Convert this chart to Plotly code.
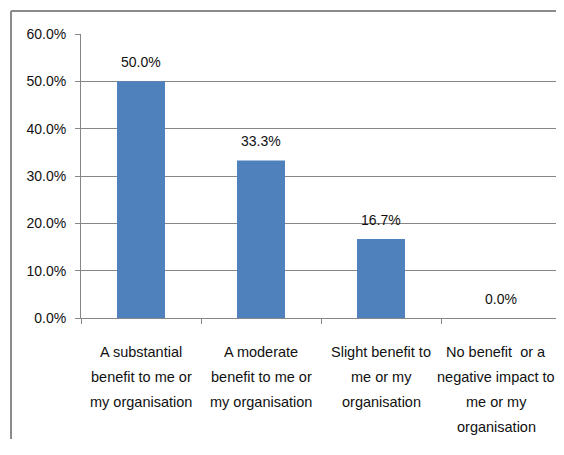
import plotly.graph_objects as go

# ── data ─────────────────────────────────────────
categories = [
    "A substantial benefit to me or my organisation",
    "A moderate benefit to me or my organisation",
    "Slight benefit to me or my organisation",
    "No benefit  or a negative impact to me or my organisation",
]
label_lines = [
    ["A substantial", "benefit to me or", "my organisation"],
    ["A moderate", "benefit to me or", "my organisation"],
    ["Slight benefit to", "me or my", "organisation"],
    ["No benefit  or a", "negative impact to", "me or my", "organisation"],
]
shares = [50.0, 33.3, 16.7, 0.0]

FONT = "Liberation Sans, Arial, sans-serif"
GRID = "#868686"
BAR = "#4F81BD"
TXT = "#111111"

fig = go.Figure()
fig.add_trace(go.Bar(x=categories, y=shares, marker=dict(color=BAR, line=dict(width=0)),
                     width=0.4, showlegend=False, hoverinfo="y"))

# value labels above each bar
for cat, val in zip(categories, shares):
    fig.add_annotation(x=cat, y=val, text=f"{val:.1f}%", showarrow=False,
                       yanchor="middle", yshift=19,
                       font=dict(family=FONT, size=14, color=TXT))

# category labels, one annotation per line (excel-like wide line spacing);
# the last column is nudged left a little so its widest line is not clipped
for k, (cat, lines) in enumerate(zip(categories, label_lines)):
    nudge = -5 if k == len(categories) - 1 else 0
    for i, line in enumerate(lines):
        fig.add_annotation(x=cat, y=0, text=line, showarrow=False,
                           yanchor="middle", yshift=-(34 + 25 * i), xshift=nudge,
                           font=dict(family=FONT, size=14.5, color=TXT))

# outer chart border: only top and left edges are visible in the reference
border = dict(color="#8a8a8a", width=2)
fig.add_shape(type="line", xref="paper", yref="paper",
              x0=-0.1458, x1=1.02, y0=1.081, y1=1.081, line=border)
fig.add_shape(type="line", xref="paper", yref="paper",
              x0=-0.1458, x1=-0.1458, y0=1.081, y1=-0.5, line=border)

# page body has an 8px margin; keep the page short enough not to scroll
fig.update_layout(
    width=556, height=431,
    margin=dict(l=73, r=3, t=26, b=121),
    paper_bgcolor="white", plot_bgcolor="white",
    font=dict(family=FONT, size=14, color=TXT),
    xaxis=dict(showline=True, linecolor=GRID, linewidth=1,
               ticks="outside", ticklen=5, tickcolor=GRID, tickson="boundaries",
               showgrid=False, showticklabels=False, automargin=False),
    yaxis=dict(range=[0, 60], dtick=10, tickformat=".1f", ticksuffix="%",
               showgrid=True, gridcolor=GRID, gridwidth=1,
               showline=True, linecolor=GRID, linewidth=1,
               ticks="outside", ticklen=5, tickcolor=GRID, zeroline=False,
               ticklabelstandoff=6, automargin=False),
)

fig.write_html("out.html")
